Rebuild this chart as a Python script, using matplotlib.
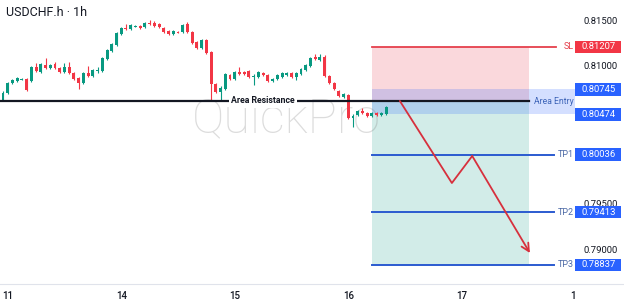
import numpy as np
import matplotlib
matplotlib.use("Agg")
import matplotlib.pyplot as plt
from matplotlib.patches import Rectangle
from matplotlib.lines import Line2D

plt.rcParams['font.family'] = ['Roboto', 'DejaVu Sans']

# hourly candles, USDCHF.h
opens = [0.80630, 0.80706, 0.80815, 0.80837, 0.80853, 0.80858, 0.80837, 0.80989, 0.80934, 0.81010,
         0.80978, 0.81021, 0.80978, 0.80934, 0.80989, 0.80924, 0.80869, 0.80815, 0.80924, 0.80891,
         0.80945, 0.80945, 0.81076, 0.81163, 0.81228, 0.81347, 0.81413, 0.81402, 0.81429, 0.81434,
         0.81424, 0.81467, 0.81467, 0.81456, 0.81413, 0.81380, 0.81347, 0.81369, 0.81369, 0.81456,
         0.81369, 0.81260, 0.81195, 0.81282, 0.81152, 0.80804, 0.80717, 0.80750, 0.80902, 0.80858,
         0.80934, 0.80934, 0.80945, 0.80880, 0.80880, 0.80924, 0.80902, 0.80837, 0.80858, 0.80880,
         0.80902, 0.80924, 0.80880, 0.80913, 0.80956, 0.81000, 0.81097, 0.81065, 0.81097, 0.80891,
         0.80815, 0.80728, 0.80663, 0.80684, 0.80435, 0.80467, 0.80510, 0.80489, 0.80456, 0.80489,
         0.80467, 0.80478]
highs = [0.80728, 0.80826, 0.80858, 0.80880, 0.80869, 0.80869, 0.81000, 0.81032, 0.81032, 0.81087,
         0.81021, 0.81043, 0.80989, 0.81032, 0.81043, 0.80934, 0.80880, 0.80934, 0.81000, 0.80967,
         0.80989, 0.81097, 0.81184, 0.81250, 0.81369, 0.81424, 0.81456, 0.81456, 0.81445, 0.81445,
         0.81478, 0.81500, 0.81489, 0.81467, 0.81424, 0.81391, 0.81391, 0.81380, 0.81456, 0.81478,
         0.81380, 0.81271, 0.81293, 0.81293, 0.81163, 0.80815, 0.80782, 0.80924, 0.80913, 0.80945,
         0.80989, 0.80945, 0.80956, 0.80913, 0.80945, 0.80934, 0.80913, 0.80869, 0.80913, 0.80934,
         0.80934, 0.80934, 0.80934, 0.80978, 0.81021, 0.81097, 0.81130, 0.81130, 0.81119, 0.80902,
         0.80826, 0.80739, 0.80706, 0.80695, 0.80478, 0.80521, 0.80543, 0.80500, 0.80500, 0.80500,
         0.80500, 0.80565]
lows = [0.80619, 0.80695, 0.80804, 0.80826, 0.80847, 0.80728, 0.80826, 0.80934, 0.80924, 0.80967,
        0.80967, 0.80967, 0.80924, 0.80924, 0.80913, 0.80847, 0.80750, 0.80804, 0.80880, 0.80880,
        0.80924, 0.80934, 0.81065, 0.81152, 0.81217, 0.81337, 0.81391, 0.81391, 0.81424, 0.81402,
        0.81413, 0.81445, 0.81424, 0.81413, 0.81358, 0.81337, 0.81337, 0.81358, 0.81358, 0.81358,
        0.81239, 0.81184, 0.81184, 0.81130, 0.80630, 0.80706, 0.80630, 0.80739, 0.80847, 0.80847,
        0.80902, 0.80902, 0.80869, 0.80793, 0.80869, 0.80891, 0.80826, 0.80826, 0.80847, 0.80869,
        0.80891, 0.80869, 0.80847, 0.80902, 0.80945, 0.80989, 0.81065, 0.81054, 0.80880, 0.80804,
        0.80739, 0.80663, 0.80652, 0.80424, 0.80337, 0.80456, 0.80478, 0.80445, 0.80445, 0.80456,
        0.80456, 0.80467]
closes = [0.80706, 0.80815, 0.80847, 0.80869, 0.80858, 0.80739, 0.80989, 0.80945, 0.81021, 0.80978,
          0.81010, 0.80978, 0.80934, 0.80989, 0.80924, 0.80858, 0.80815, 0.80924, 0.80891, 0.80956,
          0.80956, 0.81087, 0.81174, 0.81239, 0.81358, 0.81413, 0.81402, 0.81445, 0.81434, 0.81413,
          0.81467, 0.81456, 0.81434, 0.81424, 0.81369, 0.81347, 0.81380, 0.81364, 0.81445, 0.81369,
          0.81250, 0.81195, 0.81282, 0.81141, 0.80804, 0.80717, 0.80761, 0.80913, 0.80858, 0.80934,
          0.80913, 0.80913, 0.80880, 0.80891, 0.80934, 0.80902, 0.80837, 0.80858, 0.80902, 0.80924,
          0.80924, 0.80880, 0.80924, 0.80967, 0.81010, 0.81087, 0.81076, 0.81097, 0.80891, 0.80815,
          0.80750, 0.80673, 0.80695, 0.80435, 0.80456, 0.80510, 0.80489, 0.80456, 0.80489, 0.80467,
          0.80489, 0.80554]

day_ticks = [1, 25, 49, 73, 97, 120.5]
day_labels = ['11', '14', '15', '16', '17', '1']
# 0.80000 and 0.80500 sit under the TP1 / entry boxes, so only these show
axis_prices = [0.790, 0.795, 0.810, 0.815]

# trade setup levels
resistance = 0.80620
entry_top, entry_bottom = 0.80745, 0.80474
sl = 0.81207
tps = [0.80036, 0.79413, 0.78837]
tp_names = ['TP1', 'TP2', 'TP3']
# projected path (bar index, price)
path_x = [83.9, 94.9, 99.2, 111.4]
path_y = [0.80620, 0.79728, 0.80022, 0.78967]

GREEN = '#089981'
RED = '#f23645'
BLUE = '#2962ff'

fig = plt.figure(figsize=(6.24, 3.06), dpi=100)
ax = fig.add_axes([0, 22 / 306, 575 / 624, 284 / 306])
ax.set_xlim(-0.63, 120.93)
ax.set_ylim(0.786304, 0.817174)

# zones
z0, z1, xr = 78.0, 111.2, 120.93
ax.add_patch(Rectangle((z0, resistance), z1 - z0, sl - resistance, fc='#fad8dc', ec='none', zorder=0))
ax.add_patch(Rectangle((z0, tps[-1]), z1 - z0, resistance - tps[-1], fc='#d2ece8', ec='none', zorder=0))
ax.add_patch(Rectangle((z0, entry_bottom), xr - z0, entry_top - entry_bottom, fc=BLUE, alpha=0.2,
                       ec='none', zorder=0.5))

# watermark
ax.text(60.0, 0.80413, 'QuickPro', fontsize=35, color='#808080', alpha=0.27, ha='center',
        va='center', fontweight='light', zorder=1)

# candles
x = np.arange(len(opens))
o = np.array(opens); c = np.array(closes)
cols = [GREEN if cc >= oo else RED for oo, cc in zip(o, c)]
ax.vlines(x, lows, highs, colors=cols, lw=0.8, zorder=3)
body = np.maximum(np.abs(c - o), 0.00009)
ax.bar(x, body, bottom=np.minimum(o, c), width=0.62, color=cols, zorder=4)

# area resistance
ax.plot([-0.63, z1], [resistance, resistance], color='#131722', lw=1.6, zorder=5)
ax.text(55, resistance, 'Area Resistance', fontsize=6.3, fontweight='bold', color='#131722',
        ha='center', va='center', zorder=6,
        bbox=dict(boxstyle='square,pad=0.25', fc='white', ec='none'))
ax.text(120.6, (entry_top + entry_bottom) / 2, 'Area Entry', fontsize=6.2, color='#3d64b8',
        ha='right', va='center', zorder=6)

# SL / TP lines
line_end = 116.4
ax.plot([z0, line_end + 0.6], [sl, sl], color='#e5404c', lw=1.3, zorder=5)
ax.text(120.6, sl, 'SL', fontsize=6.5, color='#e5404c', ha='right', va='center')
for tp, name in zip(tps, tp_names):
    ax.plot([z0, line_end], [tp, tp], color='#2b5bd0', lw=1.4, zorder=5)
    ax.text(120.6, tp, name, fontsize=6.5, color='#4d6aa6', ha='right', va='center')

# projected move
ax.plot(path_x[:3], path_y[:3], color='#d7303d', lw=1.3, zorder=6, solid_capstyle='round')
ax.annotate('', xy=(path_x[3], path_y[3]), xytext=(path_x[2], path_y[2]),
            arrowprops=dict(arrowstyle='->', color='#d7303d', lw=1.3, mutation_scale=14,
                            shrinkA=0, shrinkB=0), zorder=6)

# axes styling
for s in ax.spines.values():
    s.set_visible(False)
ax.set_xticks(day_ticks)
ax.set_xticklabels(day_labels, fontsize=7, color='#131722', fontweight='medium')
ax.yaxis.tick_right()
ax.set_yticks(axis_prices)
ax.set_yticklabels([f'{p:.5f}' for p in axis_prices], fontsize=6.8, color='#131722')
ax.tick_params(axis='both', length=0)
ax.tick_params(axis='x', pad=5)
ax.tick_params(axis='y', pad=6)

# price boxes on the scale
box_h = 12.5 / 9200
tr = ax.get_yaxis_transform()
labels = [(sl, RED)] + [(p, BLUE) for p in [entry_top, entry_bottom] + tps]
for price, col in labels:
    ax.add_patch(Rectangle((1.0, price - box_h / 2), 46 / 575, box_h, transform=tr, fc=col,
                           ec='none', clip_on=False, zorder=10))
    ax.text(1.0 + 24 / 575, price, f'{price:.5f}', transform=tr, fontsize=6.8, color='white',
            ha='center', va='center', zorder=11, clip_on=False)

fig.add_artist(Line2D([0, 1], [22 / 306, 22 / 306], color='#e0e3eb', lw=0.8))
fig.text(6 / 624, 1 - 13 / 306, 'USDCHF.h · 1h', fontsize=9, color='#131722', va='center')

fig.savefig('out.png', dpi=100)
